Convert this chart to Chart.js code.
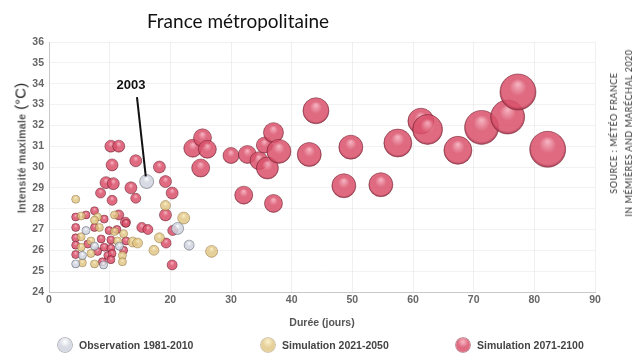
<!DOCTYPE html>
<html lang="fr">
<head>
<meta charset="utf-8">
<title>Vagues de chaleur – France métropolitaine</title>
<script src="https://cdn.jsdelivr.net/npm/chart.js@4/dist/chart.umd.min.js"></script>
<style>
  html, body { margin: 0; padding: 0; background: #fff; }
  #wrap { position: relative; width: 640px; height: 353px; overflow: hidden; background: #fff; }
  #chart { position: absolute; left: 0; top: 0; }
  #titre { position: absolute; left: 238px; top: 20px; transform: translate(-50%, -50%);
           font: 19px Lato, "Open Sans", sans-serif; color: #111; white-space: nowrap; }
  #ytitre { position: absolute; left: 20px; top: 148px; transform: translate(-50%, -50%) rotate(-90deg);
            white-space: nowrap; color: #555; font: bold 10.5px "Liberation Sans", Arial, sans-serif;
            letter-spacing: 0.3px; }
  #ytitre .unite { font-weight: normal; font-size: 15px; color: #222; margin-left: 4px; letter-spacing: 0; }
  #source { position: absolute; left: 621px; top: 133px; transform: translate(-50%, -50%) rotate(-90deg);
            text-align: center; font: 9px Lato, sans-serif; color: #333; line-height: 15px;
            white-space: nowrap; letter-spacing: 0.5px; }
  #legende { position: absolute; left: 0; top: 337px; width: 640px; height: 16px;
             font: bold 10.5px "Liberation Sans", Arial, sans-serif; color: #444; }
  #legende .item { position: absolute; top: 0; height: 16px; line-height: 16px; white-space: nowrap; }
  #legende .pastille { position: absolute; top: 1px; width: 14px; height: 14px; border-radius: 50%; }
  #legende .txt { position: absolute; left: 21px; top: 0; }
</style>
</head>
<body>
<div id="wrap">
  <canvas id="chart" width="640" height="353"></canvas>
  <div id="titre">France métropolitaine</div>
  <div id="ytitre">Intensité maximale<span class="unite">(°C)</span></div>
  <div id="source">SOURCE : MÉTÉO FRANCE<br>IN MÉMIÈRES AND MARÉCHAL 2020</div>
  <div id="legende"></div>
</div>
<script>
// Durée (jours), intensité maximale (°C) et taille de chaque vague de chaleur

// Observation 1981-2010
const obsDuree      = [16.1, 21.2, 23.1, 5.5, 4.4, 7.5, 11.6, 6.1, 9.0];
const obsIntensite  = [29.3, 27.05, 26.25, 25.75, 25.35, 26.2, 26.2, 26.95, 25.3];
const obsTaille     = [7, 6, 5, 4, 4, 4, 4, 4, 4];

// Simulation 2021-2050
const sim1Duree     = [4.4, 5.3, 8.0, 7.5, 8.3, 10.8, 5.3, 6.9, 11.3, 5.3, 6.9, 12.1, 5.5, 7.5, 12.1,
                       13.8, 14.6, 17.3, 18.2, 19.2, 22.2, 26.8, 10.8, 12.3];
const sim1Intensite = [28.45, 27.65, 27.6, 27.45, 27.1, 26.9, 26.65, 26.45, 26.45, 26.15, 25.85, 25.75, 25.4, 25.35, 25.45,
                       26.4, 26.35, 26.0, 26.6, 28.15, 27.55, 25.95, 27.7, 26.8];
const sim1Taille    = [4, 4, 4, 4, 4, 4, 4, 4, 4, 4, 4, 4, 4, 4, 4,
                       5, 5, 5, 5, 5, 6, 6, 4, 4];

// Simulation 2071-2100
const sim2Duree     = [23.7, 25.3, 26.1, 25.0, 30.0, 32.7, 32.1, 34.6, 35.5, 36.0, 37.0, 37.0, 37.9, 42.9,
                       44.0, 48.6, 49.75, 54.7, 57.5, 61.3, 62.4, 67.4, 71.3, 75.6, 77.3, 82.2,
                       10.2, 11.5, 10.4, 14.3, 18.2, 9.4, 10.6, 13.5, 19.2, 20.3, 8.5, 10.4, 14.3, 19.2,
                       11.5, 12.6, 15.3, 16.3, 20.4, 19.3, 20.3,
                       4.4, 6.1, 7.5, 9.1, 4.4, 7.5, 9.9, 12.7, 4.4, 8.6, 10.2, 12.7, 4.4, 6.4, 9.1,
                       10.2, 4.4, 8.0, 9.7, 10.4, 8.8, 10.2, 12.3, 11.2];
const sim2Intensite = [30.9, 31.4, 30.85, 29.95, 30.55, 30.6, 28.65, 30.3, 31.05, 29.95, 31.65, 28.25, 30.75, 30.6,
                       32.7, 29.1, 30.95, 29.15, 31.15, 32.2, 31.8, 30.8, 31.9, 32.4, 33.6, 30.85,
                       31.0, 31.0, 30.1, 30.3, 30.0, 29.25, 29.2, 29.0, 29.3, 28.75, 28.75, 28.4, 28.5, 27.7,
                       27.7, 27.35, 27.1, 27.0, 26.95, 26.35, 25.3,
                       27.6, 27.7, 27.9, 27.5, 27.1, 27.1, 26.95, 27.3, 26.6, 26.55, 26.5, 26.45, 26.25, 26.3, 26.15,
                       26.1, 25.8, 25.95, 25.75, 25.85, 25.45, 25.55, 26.0, 27.0];
const sim2Taille    = [9, 9, 9, 9, 8, 9, 9, 9, 8, 11, 10, 9, 12, 12,
                       13, 12, 12, 12, 14, 13, 15, 14, 17, 17, 18, 18,
                       6, 6, 6, 6, 6, 6, 6, 6, 6, 6, 5, 5, 5, 6,
                       5, 5, 5, 5, 5, 5, 5,
                       4, 4, 4, 4, 4, 4, 4, 4, 4, 4, 4, 4, 4, 4, 4,
                       4, 4, 4, 4, 4, 4, 4, 4, 4];

// Graduations des axes
const xTicks = [0, 10, 20, 30, 40, 50, 60, 70, 80, 90];
const yTicks = [24, 25, 26, 27, 28, 29, 30, 31, 32, 33, 34, 35, 36];

const seriesLabels = ['Observation 1981-2010', 'Simulation 2021-2050', 'Simulation 2071-2100'];

// Repère de l'été 2003 (en unités des axes)
const repere2003 = { texte: '2003', x: 13.5, y: 33.9, de: [14.5, 33.35], a: [15.95, 29.55] };

// Teintes « bulle de verre » : reflet, cœur, bord
const teintes = [
  { reflet: 'rgba(255,255,255,0.95)', coeur: 'rgba(208,212,222,0.85)', bord: 'rgba(130,136,152,0.9)', trait: 'rgba(90,95,110,0.55)', plat: '#cfd3db' },
  { reflet: 'rgba(250,240,200,0.9)',  coeur: 'rgba(224,196,128,0.8)',  bord: 'rgba(170,130,70,0.85)', trait: 'rgba(140,110,60,0.5)', plat: '#e2c78a' },
  { reflet: 'rgba(246,178,192,0.92)', coeur: 'rgba(218,82,108,0.86)',  bord: 'rgba(140,36,58,0.92)', trait: 'rgba(110,30,45,0.6)', plat: '#d9546e' }
];

function pts(xs, ys, rs) {
  return xs.map((x, i) => ({ x: x, y: ys[i], r: rs[i] }));
}

function verre(t) {
  return (ctx) => {
    const chart = ctx.chart;
    if (ctx.type !== 'data' || !ctx.raw || !chart.scales.x || !chart.scales.y) return t.plat;
    const px = chart.scales.x.getPixelForValue(ctx.raw.x);
    const py = chart.scales.y.getPixelForValue(ctx.raw.y);
    const r = ctx.raw.r;
    if (!isFinite(px) || !isFinite(py) || !(r > 0)) return t.plat;
    const g = chart.ctx.createRadialGradient(px, py - r * 0.45, 0, px, py, r * 1.05);
    g.addColorStop(0, t.reflet);
    g.addColorStop(0.45, t.coeur);
    g.addColorStop(0.85, t.coeur);
    g.addColorStop(1, t.bord);
    return g;
  };
}

const series = [
  pts(obsDuree, obsIntensite, obsTaille),
  pts(sim1Duree, sim1Intensite, sim1Taille),
  pts(sim2Duree, sim2Intensite, sim2Taille)
];

const datasets = series.map((d, i) => ({
  label: seriesLabels[i],
  data: d,
  backgroundColor: verre(teintes[i]),
  borderColor: teintes[i].trait,
  borderWidth: 0.8
}));

// Trait et étiquette « 2003 »
const repere = {
  id: 'repere2003',
  afterDatasetsDraw(chart) {
    const { ctx, scales: { x, y } } = chart;
    ctx.save();
    ctx.strokeStyle = '#111';
    ctx.lineWidth = 2;
    ctx.beginPath();
    ctx.moveTo(x.getPixelForValue(repere2003.de[0]), y.getPixelForValue(repere2003.de[1]));
    ctx.lineTo(x.getPixelForValue(repere2003.a[0]), y.getPixelForValue(repere2003.a[1]));
    ctx.stroke();
    ctx.fillStyle = '#111';
    ctx.font = 'bold 13px "Liberation Sans", Arial, sans-serif';
    ctx.textAlign = 'center';
    ctx.textBaseline = 'middle';
    ctx.fillText(repere2003.texte, x.getPixelForValue(repere2003.x), y.getPixelForValue(repere2003.y));
    ctx.restore();
  }
};

const tickFont = { family: '"Liberation Sans", Arial, sans-serif', size: 10.5, weight: 'bold' };

// Légende sous le graphique
const legendeX = [58, 261, 456];
const legende = document.getElementById('legende');
seriesLabels.forEach((lab, i) => {
  const t = teintes[i];
  const item = document.createElement('div');
  item.className = 'item';
  item.style.left = legendeX[i] + 'px';
  const p = document.createElement('div');
  p.className = 'pastille';
  p.style.background = `radial-gradient(circle at 50% 28%, ${t.reflet} 0%, ${t.coeur} 45%, ${t.coeur} 80%, ${t.bord} 100%)`;
  p.style.boxShadow = `0 0 0 0.8px ${t.trait}`;
  const s = document.createElement('span');
  s.className = 'txt';
  s.textContent = lab;
  item.appendChild(p);
  item.appendChild(s);
  legende.appendChild(item);
});

new Chart(document.getElementById('chart'), {
  type: 'bubble',
  data: { datasets: datasets },
  options: {
    responsive: false,
    animation: false,
    devicePixelRatio: 1,
    events: [],
    layout: { padding: { left: 0, right: 45, top: 42, bottom: 24 } },
    scales: {
      x: {
        type: 'linear', min: xTicks[0], max: xTicks[xTicks.length - 1],
        afterBuildTicks(s) { s.ticks = xTicks.map(v => ({ value: v })); },
        ticks: { color: '#666', font: tickFont, padding: 2 },
        grid: { color: 'rgba(0,0,0,0.06)', drawTicks: false },
        border: { color: '#c8c8c8' },
        title: { display: true, text: 'Durée (jours)', color: '#555',
                 font: { family: '"Liberation Sans", Arial, sans-serif', size: 10.5, weight: 'bold' },
                 padding: { top: 4, bottom: 0 } },
        afterFit(s) { s.height = 37; }
      },
      y: {
        type: 'linear', min: yTicks[0], max: yTicks[yTicks.length - 1],
        afterBuildTicks(s) { s.ticks = yTicks.map(v => ({ value: v })); },
        ticks: { color: '#666', font: tickFont, padding: 5 },
        grid: { color: 'rgba(0,0,0,0.05)', drawTicks: false },
        border: { color: '#c8c8c8' },
        afterFit(s) { s.width = 49; }
      }
    },
    plugins: {
      legend: { display: false },
      tooltip: { enabled: false }
    }
  },
  plugins: [repere]
});
</script>
</body>
</html>
